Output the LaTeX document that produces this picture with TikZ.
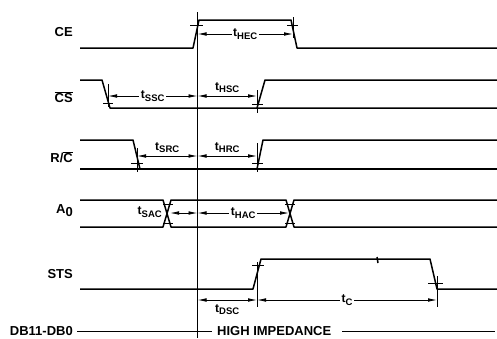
\documentclass[tikz,border=0pt]{standalone}
\usepackage{fontspec}
\setmainfont{Liberation Sans}
\usetikzlibrary{arrows.meta}

\newcommand{\tsub}[1]{t\raisebox{-2.5pt}{\fontsize{9.5}{10}\selectfont #1}}
\newcommand{\ovl}[1]{$\overline{\mbox{#1}}$}

\begin{document}
\begin{tikzpicture}[
  x=1pt, y=-1pt,
  >={Latex[length=9pt,width=3.6pt]},
  font=\bfseries\fontsize{12}{14}\selectfont,
  sig/.style={line width=1.5pt, line join=round},
  tick/.style={line width=0.8pt},
  dim/.style={<->, line width=0.8pt},
  siglabel/.style={anchor=east, inner sep=0pt, font=\bfseries\fontsize{13}{15}\selectfont},
  tlabel/.style={inner sep=1.5pt, fill=white}
]
\useasboundingbox (0,0) rectangle (497,338);

% REFERENCE LINE
\coordinate (reftop) at (197.5,12);
\coordinate (refbot) at (197.5,338);
\draw[tick] (reftop) -- (refbot);

% CE
\node[siglabel] (ce) at (73,32) {CE};
\draw[sig] (80,48) -- (193,48) -- (199,20) -- (291,20) -- (297,48) -- (497,48);
\draw[tick] (190,25) -- (203,25);
\draw[tick] (287,25) -- (298,25) (293,17) -- (293,38);
\coordinate (hecA) at (197.5,34);
\coordinate (hecB) at (293,34);
\draw[dim] (hecA) -- node[tlabel] (thec) {\tsub{HEC}} (hecB);

% CS
\node[siglabel] (cs) at (73,97) {\ovl{CS}};
\draw[sig] (80,80) -- (102,80) -- (110,108) -- (497,108);
\draw[sig] (257,108) -- (265,80) -- (497,80);
\draw[tick] (103,103) -- (113,103) (108,84) -- (108,107);
\draw[tick] (252,104) -- (263,104) (257,90) -- (257,113);
\coordinate (sscA) at (108,96);
\coordinate (sscB) at (197.5,96);
\coordinate (hscB) at (257,96);
\draw[dim] (sscA) -- node[tlabel] (tssc) {\tsub{SSC}} (sscB);
\draw[dim] (sscB) -- node[above=3pt, inner sep=0pt] (thsc) {\tsub{HSC}} (hscB);

% R/C
\node[siglabel] (rc) at (73,157) {R/\ovl{C}};
\draw[sig] (80,140) -- (133,140) -- (140,169);
\draw[sig] (80,169) -- (497,169);
\draw[sig] (257,169) -- (263,140) -- (497,140);
\draw[tick] (131,163) -- (143,163) (137,148) -- (137,172);
\draw[tick] (252,163) -- (263,163) (257,143) -- (257,172);
\coordinate (srcA) at (137,156);
\coordinate (srcB) at (197.5,156);
\coordinate (hrcB) at (257,156);
\draw[dim] (srcA) -- node[above=3pt, inner sep=0pt] (tsrc) {\tsub{SRC}} (srcB);
\draw[dim] (srcB) -- node[above=3pt, inner sep=0pt] (thrc) {\tsub{HRC}} (hrcB);

% A0
\node[siglabel] (ao) at (73,211) {A\raisebox{-3pt}{0}};
\draw[sig] (80,200) -- (163,200) -- (171,227) -- (286,227) -- (294,200) -- (497,200);
\draw[sig] (80,227) -- (163,227) -- (171,200) -- (286,200) -- (294,227) -- (497,227);
\draw[tick] (163,204) -- (173,204) (163,223) -- (173,223);
\draw[tick] (285,204) -- (295,204) (285,223) -- (295,223);
\coordinate (sacA) at (170,213);
\coordinate (sacB) at (197.5,213);
\coordinate (hacB) at (289,213);
\draw[dim] (sacA) -- (sacB);
\node[anchor=east, inner sep=0pt] (tsac) at (162,212) {\tsub{SAC}};
\draw[dim] (sacB) -- node[tlabel] (thac) {\tsub{HAC}} (hacB);

% STS
\node[siglabel] (sts) at (73,274) {STS};
\draw[sig] (80,289) -- (253,289) -- (261,259) -- (430,259) -- (437,289) -- (497,289);
\draw[sig] (377,257) -- (378,263);
\draw[tick] (252,265) -- (264,265) (257,262) -- (257,307);
\draw[tick] (428,283) -- (443,283) (437,276) -- (437,307);
\coordinate (dscA) at (197.5,300);
\coordinate (dscB) at (257,300);
\coordinate (tcB) at (437,300);
\draw[dim] (dscA) -- node[below=4pt, inner sep=0pt] (tdsc) {\tsub{DSC}} (dscB);
\draw[dim] (dscB) -- node[tlabel] (tc) {\tsub{C}} (tcB);

% DB11-DB0
\node[siglabel, anchor=base east] (db) at (73,335.5) {DB11-DB0};
\node[siglabel, anchor=base west] (hiz) at (217,335.5) {HIGH IMPEDANCE};
\coordinate (dbA) at (77,331.5);
\coordinate (dbB) at (212,331.5);
\coordinate (dbC) at (342,331.5);
\coordinate (dbD) at (495,331.5);
\draw[sig] (dbA) -- (dbB);
\draw[sig] (dbC) -- (dbD);

\end{tikzpicture}
\end{document}
